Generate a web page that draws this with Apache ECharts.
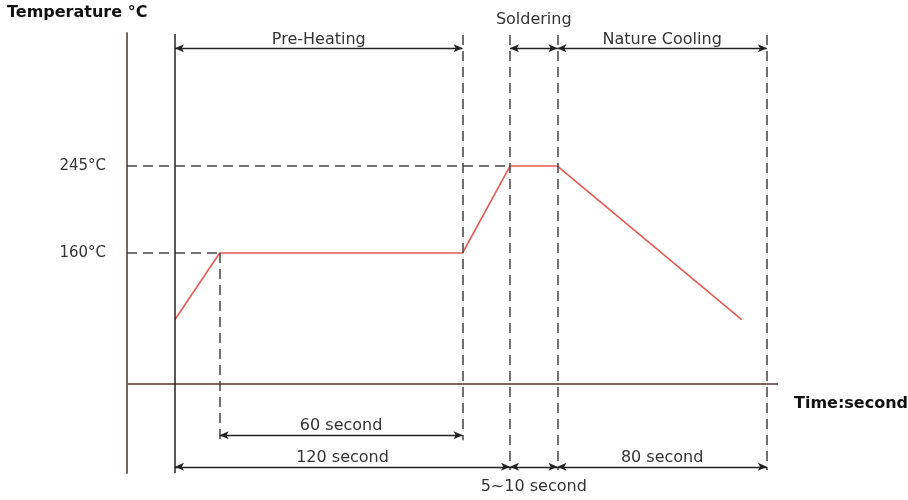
<!DOCTYPE html>
<html>
<head>
<meta charset="utf-8">
<script src="https://cdn.jsdelivr.net/npm/echarts@6/dist/echarts.min.js"></script>
<style>html,body{margin:0;padding:0;background:#fff}#c{width:908px;height:500px}</style>
</head>
<body>
<div id="c"></div>
<script>
// Schematic reflow profile (time in seconds on a schematic scale, temperature in °C)
const profileTimes = [0, 16, 103, 120, 137, 203];
const profileTemps = [95, 160, 160, 245, 245, 95];
const tempTicks = [160, 245];
const ambientTemp = 32;
const phaseBounds = [0, 16, 103, 120, 137, 212];
const topSpans = [
  { name: 'Pre-Heating', from: 0, to: 103 },
  { name: 'Soldering', from: 120, to: 137 },
  { name: 'Nature Cooling', from: 137, to: 212 }
];
const bottomSpans = [
  { name: '60 second', from: 16, to: 103 },
  { name: '120 second', from: 0, to: 120 },
  { name: '5~10 second', from: 120, to: 137 },
  { name: '80 second', from: 137, to: 212 }
];

const X_MIN = -17.2, X_MAX = 216, Y_MIN = -55, Y_MAX = 375;
const FONT = 'DejaVu Sans';
const dashStyle = { color: '#444', width: 1.5, type: [10, 6] };
const dimStyle = { color: '#222', width: 1.3, type: 'solid' };

function seg(x1, y1, x2, y2, style, extra) {
  return [Object.assign({ coord: [x1, y1], lineStyle: style }, extra || {}), { coord: [x2, y2] }];
}

const ml = [];
// x axis line at ambient
ml.push(seg(X_MIN, ambientTemp, X_MAX, ambientTemp, { color: '#7d6262', width: 2, type: 'solid' }));
// horizontal dashed guides
ml.push(seg(X_MIN, tempTicks[1], phaseBounds[3], tempTicks[1], dashStyle));
ml.push(seg(X_MIN, tempTicks[0], phaseBounds[1], tempTicks[0], dashStyle));
// solid start line
ml.push(seg(phaseBounds[0], 374, phaseBounds[0], -55, { color: '#222', width: 1.5, type: 'solid' }));
// dashed verticals
ml.push(seg(phaseBounds[1], tempTicks[0], phaseBounds[1], -23, dashStyle));
ml.push(seg(phaseBounds[2], 373, phaseBounds[2], -23, dashStyle));
ml.push(seg(phaseBounds[3], 373, phaseBounds[3], -52, dashStyle));
ml.push(seg(phaseBounds[4], 373, phaseBounds[4], -52, dashStyle));
ml.push(seg(phaseBounds[5], 373, phaseBounds[5], -52, dashStyle));

const dimLines = [];
const labelBase = { show: true, fontFamily: FONT, fontSize: 16, color: '#333' };
topSpans.forEach(s => {
  const lab = Object.assign({}, labelBase, { formatter: s.name, position: 'insideMiddleTop',
    distance: s.name === 'Soldering' ? 21 : 1 });
  dimLines.push([{ coord: [s.from, 360], lineStyle: dimStyle, label: lab }, { coord: [s.to, 360] }]);
});
bottomSpans.forEach(s => {
  const y = s.name === '60 second' ? -18 : -49;
  const below = s.name === '5~10 second';
  const lab = Object.assign({}, labelBase, { formatter: s.name,
    position: below ? 'insideMiddleBottom' : 'insideMiddleTop', distance: below ? 12 : 1 });
  dimLines.push([{ coord: [s.from, y], lineStyle: dimStyle, label: lab }, { coord: [s.to, y] }]);
});

const chart = echarts.init(document.getElementById('c'), null, { renderer: 'canvas' });
chart.setOption({
  animation: false,
  backgroundColor: '#fff',
  grid: { left: 127, right: 130, top: 33, bottom: 27 },
  xAxis: {
    type: 'value', min: X_MIN, max: X_MAX,
    axisLine: { show: false }, axisTick: { show: false }, axisLabel: { show: false }, splitLine: { show: false }
  },
  yAxis: {
    type: 'value', min: Y_MIN, max: Y_MAX,
    axisLine: { show: true, onZero: false, lineStyle: { color: '#7d6262', width: 2 } },
    axisTick: { show: false },
    splitLine: { show: false },
    axisLabel: { customValues: tempTicks, formatter: '{value}°C', margin: 21, fontFamily: FONT, fontSize: 15, color: '#333' }
  },
  graphic: [
    { type: 'text', left: 7, top: 5, style: { text: 'Temperature °C', font: 'bold 16px "DejaVu Sans"', fill: '#111' } },
    { type: 'text', left: 794, top: 396, style: { text: 'Time:second', font: 'bold 16px "DejaVu Sans"', fill: '#111' } }
  ],
  series: [
    {
      type: 'line', silent: true, symbol: 'none', z: 3,
      data: profileTimes.map((t, i) => [t, profileTemps[i]]),
      lineStyle: { color: '#e35b55', width: 1.6 },
      markLine: { silent: true, symbol: ['none', 'none'], label: { show: false }, data: ml, animation: false }
    },
    {
      type: 'line', silent: true, data: [], z: 4,
      markLine: { silent: true, symbol: ['arrow', 'arrow'], symbolSize: [6, 9], data: dimLines, animation: false }
    }
  ]
});
</script>
</body>
</html>
